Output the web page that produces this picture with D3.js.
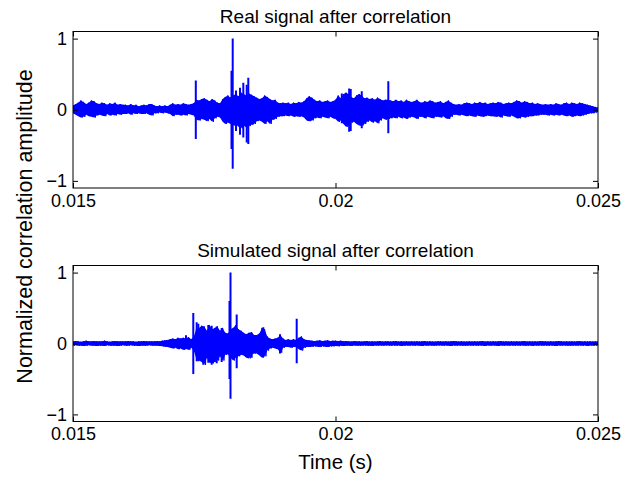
<!DOCTYPE html>
<html>
<head>
<meta charset="utf-8">
<script src="https://cdnjs.cloudflare.com/ajax/libs/d3/7.8.5/d3.min.js"></script>
<style>
    body { margin: 0; background: #fff; }
    svg { font-family: "Liberation Sans", Arial, Helvetica, sans-serif; }
</style>
</head>
<body>
<div class="svg-container"></div>
<script>
// sample grid of the envelope arrays (s)
const T0 = 0.015;
const STEP = 0.00005;

const xTicks = [0.015, 0.02, 0.025];
const yTicks = [-1, 0, 1];

// real signal: upper / lower envelope per 0.05 ms bin
const realHi = [
    .06, .08, .10, .13, .11, .08, .10, .13, .12, .09,
    .08, .10, .09, .07, .09, .08, .10, .07, .08, .07,
    .07, .06, .08, .06, .07, .05, .06, .07, .06, .08,
    .08, .06, .05, .06, .05, .06, .05, .07, .09, .07,
    .08, .07, .09, .08, .07, .08, .09, .14, .13, .15,
    .16, .14, .12, .15, .13, .10, .09, .15, .18, .20,
    .17, .20, .22, .19, .24, .22, .20, .23, .21, .19,
    .17, .15, .16, .20, .18, .15, .13, .14, .10, .09,
    .10, .09, .10, .08, .10, .09, .11, .10, .12, .16,
    .19, .17, .14, .12, .13, .11, .12, .13, .11, .12,
    .14, .20, .16, .22, .24, .22, .18, .16, .20, .22,
    .20, .16, .17, .15, .16, .14, .17, .15, .13, .14,
    .14, .13, .12, .14, .12, .13, .11, .14, .12, .11,
    .12, .14, .11, .10, .12, .11, .13, .12, .10, .11,
    .12, .09, .11, .13, .10, .08, .07, .08, .07, .09,
    .10, .09, .08, .10, .09, .11, .09, .10, .08, .09,
    .10, .09, .11, .10, .08, .09, .10, .09, .11, .13,
    .12, .10, .12, .11, .09, .10, .08, .09, .08, .07,
    .08, .07, .08, .07, .09, .08, .07, .09, .10, .08,
    .10, .09, .08, .10, .09, .08, .07, .06, .05, .04,
    .03
];
const realLo = [
    -.05, -.07, -.09, -.11, -.10, -.07, -.09, -.10, -.11, -.08,
    -.07, -.08, -.09, -.06, -.08, -.07, -.08, -.06, -.07, -.06,
    -.06, -.05, -.07, -.05, -.06, -.05, -.06, -.06, -.05, -.07,
    -.08, -.05, -.05, -.04, -.05, -.04, -.05, -.06, -.09, -.07,
    -.07, -.08, -.07, -.08, -.06, -.07, -.08, -.14, -.15, -.13,
    -.14, -.16, -.13, -.17, -.12, -.10, -.11, -.17, -.20, -.18,
    -.20, -.22, -.20, -.24, -.26, -.22, -.25, -.23, -.21, -.20,
    -.16, -.15, -.17, -.20, -.16, -.20, -.14, -.13, -.10, -.09,
    -.09, -.08, -.09, -.08, -.10, -.09, -.10, -.09, -.11, -.15,
    -.16, -.15, -.12, -.11, -.12, -.10, -.11, -.12, -.10, -.12,
    -.13, -.17, -.15, -.20, -.24, -.22, -.18, -.17, -.20, -.22,
    -.22, -.20, -.17, -.15, -.18, -.16, -.19, -.15, -.12, -.14,
    -.13, -.12, -.11, -.12, -.10, -.12, -.11, -.13, -.11, -.10,
    -.11, -.13, -.10, -.10, -.12, -.10, -.11, -.12, -.10, -.10,
    -.11, -.09, -.12, -.13, -.10, -.07, -.07, -.08, -.07, -.08,
    -.09, -.08, -.09, -.10, -.08, -.09, -.10, -.09, -.08, -.09,
    -.09, -.10, -.09, -.11, -.08, -.09, -.10, -.08, -.10, -.12,
    -.12, -.10, -.11, -.10, -.09, -.09, -.08, -.08, -.07, -.07,
    -.07, -.08, -.07, -.08, -.07, -.08, -.07, -.08, -.09, -.08,
    -.10, -.09, -.08, -.09, -.08, -.07, -.06, -.05, -.05, -.04,
    -.03
];
// real signal: isolated peaks
const realSpikeT  = [0.017339, 0.018019, 0.018042, 0.018105, 0.018181, 0.018244, 0.018309, 0.018339,
                     0.020120, 0.020260, 0.020290, 0.020500, 0.021006];
const realSpikeHi = [0.41, 0.55, 1.0, 0.27, 0.31, 0.38, 0.35, 0.45, 0.23, 0.30, 0.29, 0.26, 0.40];
const realSpikeLo = [-0.41, -0.55, -0.83, -0.30, -0.35, -0.39, -0.46, -0.48, -0.19, -0.31, -0.30, -0.26, -0.33];

// simulated signal: upper / lower envelope per 0.05 ms bin
const simHi = [
    .030, .035, .030, .025, .030, .040, .030, .030, .035, .030,
    .030, .030, .040, .030, .025, .030, .035, .030, .030, .030,
    .030, .035, .030, .030, .025, .030, .030, .035, .030, .030,
    .030, .030, .035, .030, .040, .045, .050, .060, .070, .060,
    .080, .070, .080, .070, .090, .060, .100, .200, .220, .250,
    .240, .180, .260, .200, .220, .240, .180, .220, .150, .140,
    .200, .220, .260, .200, .180, .150, .130, .150, .160, .120,
    .120, .140, .220, .200, .100, .070, .060, .070, .080, .120,
    .070, .050, .060, .050, .060, .050, .080, .100, .060, .050,
    .045, .040, .035, .040, .045, .035, .040, .045, .035, .040,
    .040, .035, .040, .030, .035, .030, .028, .035, .030, .030,
    .028, .030, .035, .028, .030, .028, .030, .035, .028, .030,
    .030, .028, .030, .035, .028, .030, .028, .030, .028, .030,
    .028, .030, .028, .030, .035, .028, .030, .028, .028, .030,
    .030, .028, .030, .028, .030, .035, .030, .028, .030, .028,
    .028, .030, .028, .030, .028, .030, .035, .028, .030, .028,
    .030, .028, .030, .035, .028, .030, .028, .030, .028, .030,
    .028, .030, .035, .028, .030, .028, .030, .028, .035, .030,
    .030, .028, .030, .028, .030, .035, .030, .028, .030, .028,
    .030, .028, .030, .035, .028, .030, .028, .030, .028, .030,
    .028
];
const simLo = [
    -.030, -.025, -.030, -.030, -.035, -.030, -.025, -.030, -.030, -.035,
    -.030, -.030, -.035, -.025, -.030, -.030, -.030, -.035, -.030, -.025,
    -.030, -.030, -.025, -.030, -.030, -.035, -.030, -.030, -.030, -.025,
    -.030, -.030, -.030, -.035, -.040, -.045, -.050, -.060, -.070, -.060,
    -.080, -.070, -.090, -.070, -.090, -.060, -.100, -.220, -.240, -.260,
    -.300, -.200, -.270, -.280, -.260, -.240, -.180, -.240, -.160, -.150,
    -.200, -.240, -.200, -.180, -.160, -.170, -.200, -.210, -.150, -.140,
    -.140, -.170, -.200, -.180, -.100, -.070, -.060, -.070, -.080, -.130,
    -.060, -.050, -.050, -.060, -.050, -.050, -.080, -.100, -.060, -.050,
    -.050, -.045, -.040, -.045, -.050, -.040, -.045, -.050, -.040, -.040,
    -.035, -.040, -.030, -.035, -.030, -.030, -.035, -.028, -.030, -.030,
    -.030, -.028, -.030, -.030, -.035, -.028, -.030, -.028, -.030, -.028,
    -.028, -.030, -.028, -.030, -.028, -.035, -.030, -.028, -.030, -.028,
    -.030, -.028, -.030, -.035, -.028, -.030, -.028, -.030, -.030, -.028,
    -.028, -.030, -.028, -.030, -.035, -.028, -.030, -.028, -.030, -.030,
    -.030, -.028, -.030, -.028, -.030, -.028, -.030, -.035, -.028, -.030,
    -.028, -.030, -.035, -.028, -.030, -.028, -.030, -.028, -.030, -.028,
    -.030, -.028, -.030, -.030, -.028, -.035, -.028, -.030, -.028, -.030,
    -.028, -.030, -.028, -.030, -.035, -.028, -.030, -.028, -.030, -.030,
    -.030, -.028, -.030, -.028, -.030, -.028, -.035, -.028, -.030, -.028,
    -.028
];
// simulated signal: isolated peaks
const simSpikeT  = [0.017152, 0.017291, 0.017356, 0.017387, 0.017482, 0.017577, 0.017642, 0.017737, 0.017832,
                    0.017981, 0.018000, 0.018118, 0.018404, 0.018625, 0.018943, 0.019261];
const simSpikeHi = [0.115, 0.43, 0.30, 0.28, 0.23, 0.26, 0.25, 0.24, 0.22, 0.60, 1.0, 0.41, 0.15, 0.23, 0.13, 0.35];
const simSpikeLo = [-0.08, -0.43, -0.25, -0.25, -0.30, -0.27, -0.30, -0.28, -0.26, -0.50, -0.78, -0.35, -0.20, -0.19, -0.14, -0.28];

const width = 630;
const height = 477;
const left = 73;
const right = 598;
const blue = "#0000ff";

const svg = d3.select(".svg-container").append("svg")
    .attr("width", width)
    .attr("height", height);

function panel(id, top, bottom, title, hi, lo, spikeT, spikeHi, spikeLo) {
    const xScale = d3.scaleLinear().domain([0.015, 0.025]).range([left, right]);
    const yScale = d3.scaleLinear().domain([-1.1, 1.1]).range([bottom, top]);
    const times = hi.map((d, i) => T0 + i * STEP);

    svg.append("clipPath").attr("id", id)
        .append("rect")
        .attr("x", left).attr("y", top)
        .attr("width", right - left).attr("height", bottom - top);

    const g = svg.append("g").attr("clip-path", "url(#" + id + ")");

    // filled band between the envelopes
    const area = d3.area()
        .x((d, i) => xScale(times[i]))
        .y0((d, i) => yScale(lo[i]))
        .y1((d) => yScale(d));
    g.append("path").datum(hi)
        .attr("d", area)
        .attr("fill", blue);

    // zig-zag trace so the band edge looks like a dense signal
    const pts = [];
    hi.forEach((h, i) => {
        pts.push([xScale(times[i]), yScale(h)]);
        pts.push([xScale(times[i]) + 1.3, yScale(lo[i])]);
    });
    g.append("path")
        .attr("d", d3.line()(pts))
        .attr("fill", "none")
        .attr("stroke", blue)
        .attr("stroke-width", 1);

    g.selectAll(".spike")
        .data(spikeT)
        .enter()
        .append("line")
        .classed("spike", true)
        .attr("x1", (d) => xScale(d))
        .attr("x2", (d) => xScale(d))
        .attr("y1", (d, i) => yScale(spikeHi[i]))
        .attr("y2", (d, i) => yScale(spikeLo[i]))
        .attr("stroke", blue)
        .attr("stroke-width", 2);

    // MATLAB style: ticks inside on all four sides, labels left and bottom
    const fmtY = (d) => (d < 0 ? "\u2212" + Math.abs(d) : String(d));
    const axes = [
        [d3.axisBottom(xScale).tickValues(xTicks).tickFormat((d) => String(d)), "translate(0," + bottom + ")"],
        [d3.axisTop(xScale).tickValues(xTicks).tickFormat(""), "translate(0," + top + ")"],
        [d3.axisLeft(yScale).tickValues(yTicks).tickFormat(fmtY), "translate(" + left + ",0)"],
        [d3.axisRight(yScale).tickValues(yTicks).tickFormat(""), "translate(" + right + ",0)"],
    ];
    axes.forEach(([ax, tr]) => {
        const a = svg.append("g")
            .attr("transform", tr)
            .call(ax.tickSizeInner(-5).tickSizeOuter(0).tickPadding(6));
        a.select(".domain").remove();
        a.selectAll("line").attr("stroke", "#000");
        a.selectAll("text")
            .attr("fill", "#000")
            .style("font-family", "'Liberation Sans', Arial, sans-serif")
            .style("font-size", "18px");
    });

    svg.append("rect")
        .attr("x", left).attr("y", top)
        .attr("width", right - left).attr("height", bottom - top)
        .attr("fill", "none")
        .attr("stroke", "#000")
        .attr("stroke-width", 1);

    svg.append("text")
        .attr("x", (left + right) / 2)
        .attr("y", top - 9)
        .attr("text-anchor", "middle")
        .style("font-size", "19px")
        .text(title);
}

panel("clip1", 31.5, 188, "Real signal after correlation", realHi, realLo, realSpikeT, realSpikeHi, realSpikeLo);
panel("clip2", 265.5, 421.5, "Simulated signal after correlation", simHi, simLo, simSpikeT, simSpikeHi, simSpikeLo);

svg.append("text")
    .attr("x", (left + right) / 2)
    .attr("y", 469)
    .attr("text-anchor", "middle")
    .style("font-size", "20.5px")
    .text("Time (s)");

svg.append("text")
    .attr("transform", "translate(32," + (31.5 + 421.5) / 2 + ") rotate(-90)")
    .attr("text-anchor", "middle")
    .style("font-size", "21.5px")
    .text("Normalized correlation amplitude");
</script>
</body>
</html>
